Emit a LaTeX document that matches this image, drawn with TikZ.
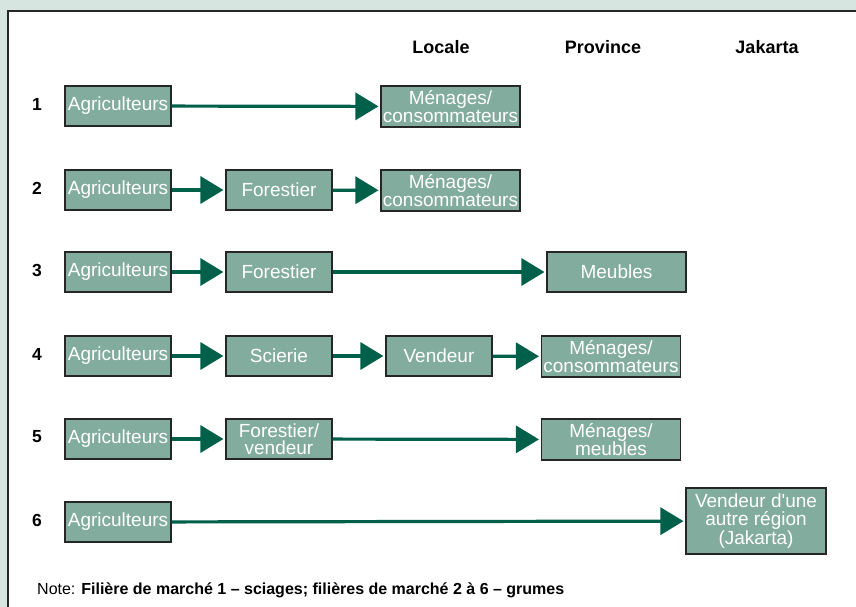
\documentclass[tikz,border=0pt]{standalone}
\usepackage{fontspec}
\setmainfont{Liberation Sans}
\usetikzlibrary{arrows.meta}
\definecolor{bgc}{HTML}{D7E5E1}
\definecolor{boxc}{HTML}{82AC9E}
\definecolor{arrc}{HTML}{00604A}
\tikzset{
  stagebox/.style={draw=black!85, line width=1.1pt, fill=boxc, text=white, inner sep=0pt,
    align=center, minimum height=40pt, font=\fontsize{19}{17.5}\selectfont},
  narrowbox/.style={stagebox, minimum width=106pt},
  widebox/.style={stagebox, minimum width=139pt},
  flow/.style={draw=arrc, line width=3.2pt, -{Triangle[length=23pt,width=27pt]}, shorten >=2pt},
  hdr/.style={font=\fontsize{18}{18}\selectfont\bfseries},
  rownum/.style={font=\fontsize{17.5}{17.5}\selectfont\bfseries},
}
\begin{document}
\begin{tikzpicture}[x=1pt,y=-1pt]
\useasboundingbox (0,0) rectangle (856,607);
\fill[bgc] (0,0) rectangle (856,607);
\draw[fill=white, line width=1.6pt, draw=black!85] (8,11) rectangle (880,640);

% headers
\node[hdr] (hl) at (441,47) {Locale};
\node[hdr] (hp) at (603,47) {Province};
\node[hdr] (hj) at (767,47) {Jakarta};

% row numbers
\node[rownum] (n1) at (37,104) {1};
\node[rownum] (n2) at (37,188) {2};
\node[rownum] (n3) at (37,270) {3};
\node[rownum] (n4) at (37,354) {4};
\node[rownum] (n5) at (37,437) {5};
\node[rownum] (n6) at (37,520) {6};

% row 1
\node[narrowbox] (a1) at (118,106) {Agriculteurs};
\node[widebox, minimum height=41pt] (m1) at (450.5,106.5) {Ménages/\\consommateurs};
\draw[flow] (a1) -- (m1);

% row 2
\node[narrowbox] (a2) at (118,190) {Agriculteurs};
\node[narrowbox] (f2) at (279,190) {Forestier};
\node[widebox, minimum height=41pt] (m2) at (450.5,190.5) {Ménages/\\consommateurs};
\draw[flow] (a2) -- (f2);
\draw[flow] (f2) -- (m2);

% row 3
\node[narrowbox] (a3) at (118,272) {Agriculteurs};
\node[narrowbox] (f3) at (279,272) {Forestier};
\node[widebox] (m3) at (616.5,272) {Meubles};
\draw[flow] (a3) -- (f3);
\draw[flow] (f3) -- (m3);

% row 4
\node[narrowbox] (a4) at (118,356) {Agriculteurs};
\node[narrowbox] (s4) at (279,356) {Scierie};
\node[narrowbox] (v4) at (439,356) {Vendeur};
\node[widebox, minimum height=41pt] (m4) at (611,356.5) {Ménages/\\consommateurs};
\draw[flow] (a4) -- (s4);
\draw[flow] (s4) -- (v4);
\draw[flow] (v4) -- (m4);

% row 5
\node[narrowbox] (a5) at (118,439) {Agriculteurs};
\node[narrowbox] (f5) at (279,439) {Forestier/\\vendeur};
\node[widebox, minimum height=41pt] (m5) at (611,439.5) {Ménages/\\meubles};
\draw[flow] (a5) -- (f5);
\draw[flow] (f5) -- (m5);

% row 6
\node[narrowbox] (a6) at (118,522) {Agriculteurs};
\node[widebox, minimum width=140pt, minimum height=66pt] (v6) at (756,521) {Vendeur d\textquotesingle une\\autre région\\(Jakarta)};
\draw[flow] (a6) -- (v6);

% note
\node[anchor=west, inner sep=0pt, font=\fontsize{16}{16}\selectfont] (note) at (37,590)
  {Note: \textbf{Filière de marché 1 – sciages; filières de marché 2 à 6 – grumes}};
\end{tikzpicture}
\end{document}
